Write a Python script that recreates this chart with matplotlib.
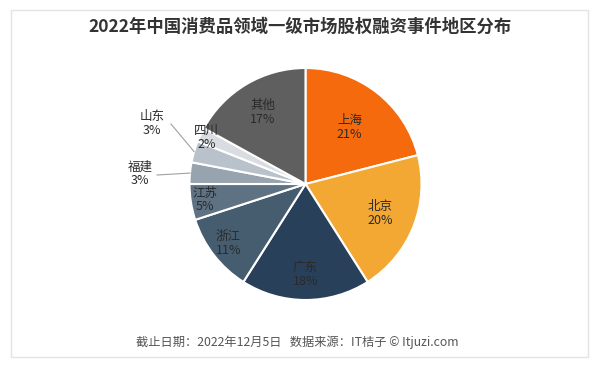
import numpy as np
import matplotlib
matplotlib.use("Agg")
import matplotlib.pyplot as plt
from matplotlib.patches import Rectangle

plt.rcParams['font.family'] = ['Noto Sans CJK SC', 'DejaVu Sans']

regions = ['上海', '北京', '广东', '浙江', '江苏', '福建', '山东', '四川', '其他']
shares = [21, 20, 18, 11, 5, 3, 3, 2, 17]
colors = ['#F46A0C', '#F2A832', '#28405A', '#465D70', '#5F7284',
          '#97A4B0', '#B9C2CA', '#D9DDE1', '#5F5F5F']
title = '2022年中国消费品领域一级市场股权融资事件地区分布'
footer = '截止日期：2022年12月5日   数据来源：IT桔子 © Itjuzi.com'

W, H = 600, 370
fig = plt.figure(figsize=(6, 3.7), dpi=100)
ax = fig.add_axes([0, 0, 1, 1])

def Y(py):
    return H - py

# frame
ax.add_patch(Rectangle((11, Y(357)), 577, 347, fill=False,
                       edgecolor='#e3e3e3', linewidth=1.0))

cx, cy, r = 305.5, Y(184), 116
wedges, _ = ax.pie(shares, colors=colors, startangle=90, counterclock=False,
                   center=(cx, cy), radius=r, frame=True,
                   wedgeprops=dict(edgecolor='white', linewidth=1.5))
ax.set_xlim(0, W)
ax.set_ylim(0, H)
ax.axis('off')

label_r = [0.62, 0.69, 0.78, 0.84, 0.88, None, None, 0.94, 0.72]
for w, name, v, lr in zip(wedges, regions, shares, label_r):
    mid = np.deg2rad((w.theta1 + w.theta2) / 2)
    if lr is None:
        continue
    x = cx + lr * r * np.cos(mid)
    y = cy + lr * r * np.sin(mid)
    ax.text(x, y, f'{name}\n{v}%', ha='center', va='center', fontsize=9,
            fontweight='medium', color='#2a2a2a', linespacing=1.1)

# outside labels with leader lines
outside = {'福建': ((140, 174), [(157, 175)]),
           '山东': ((152, 123), [(171, 124)])}
for w, name, v in zip(wedges, regions, shares):
    if name not in outside:
        continue
    mid = np.deg2rad((w.theta1 + w.theta2) / 2)
    ex = cx + r * np.cos(mid)
    ey = cy + r * np.sin(mid)
    (lx, ly), pts = outside[name]
    xs = [ex] + [p[0] for p in pts]
    ys = [ey] + [Y(p[1]) for p in pts]
    ax.plot(xs, ys, color='#a0a0a0', linewidth=0.8)
    ax.text(lx, Y(ly), f'{name}\n{v}%', ha='center', va='center', fontsize=9,
            fontweight='medium', color='#2a2a2a', linespacing=1.1)

ax.text(300, Y(27), title, ha='center', va='center', fontsize=12.5,
        fontweight='bold', color='#333333')
ax.text(297, Y(342), footer, ha='center', va='center', fontsize=8.8,
        color='#555555')

fig.savefig('out.png', dpi=100)
